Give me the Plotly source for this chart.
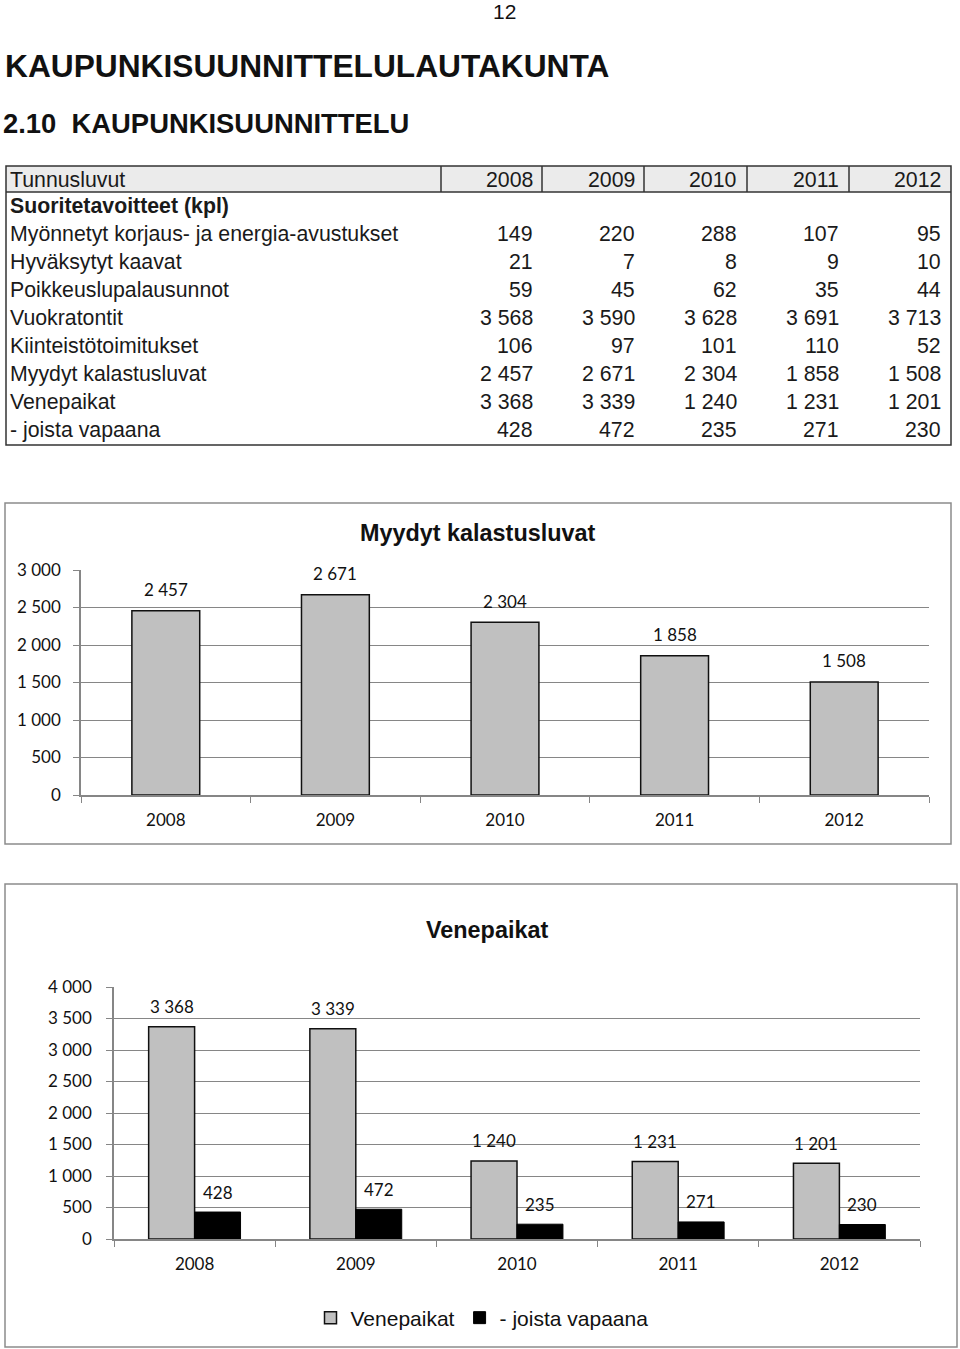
import plotly.graph_objects as go

W, H = 960, 1349

years = ["2008", "2009", "2010", "2011", "2012"]
korjaus_avustukset = [149, 220, 288, 107, 95]
hyvaksytyt_kaavat = [21, 7, 8, 9, 10]
poikkeuslupalausunnot = [59, 45, 62, 35, 44]
vuokratontit = [3568, 3590, 3628, 3691, 3713]
kiinteistotoimitukset = [106, 97, 101, 110, 52]
kalastusluvat = [2457, 2671, 2304, 1858, 1508]
venepaikat = [3368, 3339, 1240, 1231, 1201]
vapaana = [428, 472, 235, 271, 230]

row_labels = ["Myönnetyt korjaus- ja energia-avustukset", "Hyväksytyt kaavat",
              "Poikkeuslupalausunnot", "Vuokratontit", "Kiinteistötoimitukset",
              "Myydyt kalastusluvat", "Venepaikat", "- joista vapaana"]
row_values = [korjaus_avustukset, hyvaksytyt_kaavat, poikkeuslupalausunnot, vuokratontit,
              kiinteistotoimitukset, kalastusluvat, venepaikat, vapaana]


def px(x):
    return x / W


def py(y):
    return 1 - y / H


def fmt(v):
    return f"{v:,}".replace(",", " ")


ARIAL = "Liberation Sans, Arial, sans-serif"
CAL = "Lato, Carlito, Calibri, sans-serif"
GRID = "#868686"

fig = go.Figure()

# Chart 1
fig.add_trace(go.Bar(
    x=years, y=kalastusluvat, xaxis="x", yaxis="y", width=0.4, offset=-0.2,
    marker=dict(color="#c0c0c0", line=dict(color="#111111", width=1.5)),
    showlegend=False, name="Myydyt kalastusluvat", hoverinfo="x+y"))

# Chart 2
fig.add_trace(go.Bar(
    x=years, y=venepaikat, xaxis="x2", yaxis="y2", width=0.285, offset=-0.285,
    marker=dict(color="#c0c0c0", line=dict(color="#111111", width=1.5)),
    name="Venepaikat", hoverinfo="x+y"))
fig.add_trace(go.Bar(
    x=years, y=vapaana, xaxis="x2", yaxis="y2", width=0.285, offset=0,
    marker=dict(color="#000000", line=dict(color="#000000", width=1)),
    name="- joista vapaana", hoverinfo="x+y"))

axis_common_x = dict(type="category", showline=True, linecolor=GRID, linewidth=1.5,
                     ticks="outside", tickson="boundaries", ticklen=6, tickcolor=GRID,
                     showgrid=False, tickfont=dict(family=CAL, size=17, color="#111111"),
                     ticklabelstandoff=9, fixedrange=True, range=[-0.5, len(years) - 0.5],
                     autorange=False)
axis_common_y = dict(showline=True, linecolor=GRID, linewidth=1.5, ticks="outside",
                     ticklen=6, tickcolor=GRID, showgrid=True, gridcolor=GRID, gridwidth=1.2,
                     zeroline=False, tickformat=",d", dtick=500, autorange=False,
                     tickfont=dict(family=CAL, size=17, color="#111111"), fixedrange=True)

fig.update_layout(
    width=W, height=H, margin=dict(l=0, r=0, t=0, b=0, autoexpand=False), autosize=False,
    paper_bgcolor="white", plot_bgcolor="white", separators=", ",
    xaxis=dict(domain=[px(81), px(929)], anchor="y", **axis_common_x),
    yaxis=dict(domain=[py(795), py(570)], anchor="x", range=[0, 3000],
               ticklabelstandoff=9, **axis_common_y),
    xaxis2=dict(domain=[px(114), px(920)], anchor="y2", **axis_common_x),
    yaxis2=dict(domain=[py(1239), py(987)], anchor="x2", range=[0, 4000],
                ticklabelstandoff=11, **axis_common_y),
    legend=dict(orientation="h", x=px(482), xanchor="center", y=py(1318), yanchor="middle",
                font=dict(family=ARIAL, size=21, color="#111111"), itemwidth=30,
                traceorder="normal", bgcolor="rgba(0,0,0,0)"),
    font=dict(family=ARIAL),
)

shapes = []
annotations = []

# page header
annotations.append(dict(text="12", x=px(505), y=py(12), xref="paper", yref="paper",
                        xanchor="center", yanchor="middle", showarrow=False,
                        font=dict(family=ARIAL, size=21, color="#111111")))
annotations.append(dict(text="<b>KAUPUNKISUUNNITTELULAUTAKUNTA</b>", x=px(3), y=py(66),
                        xref="paper", yref="paper", xanchor="left", yanchor="middle",
                        showarrow=False, font=dict(family=ARIAL, size=31.7, color="#111111")))
annotations.append(dict(text="<b>2.10  KAUPUNKISUUNNITTELU</b>", x=px(1), y=py(124),
                        xref="paper", yref="paper", xanchor="left", yanchor="middle",
                        showarrow=False, font=dict(family=ARIAL, size=27.4, color="#111111")))

# table
TL, TR, TT, TB, HB = 6, 951, 166, 445, 192
shapes.append(dict(type="rect", xref="paper", yref="paper", x0=px(TL), x1=px(TR),
                   y0=py(HB), y1=py(TT), fillcolor="#ebebeb", line=dict(width=0), layer="below"))
shapes.append(dict(type="rect", xref="paper", yref="paper", x0=px(TL), x1=px(TR),
                   y0=py(TB), y1=py(TT), line=dict(color="#333333", width=1.5)))
shapes.append(dict(type="line", xref="paper", yref="paper", x0=px(TL), x1=px(TR),
                   y0=py(HB), y1=py(HB), line=dict(color="#333333", width=1.5)))
for sx in [441, 542, 644, 747, 849]:
    shapes.append(dict(type="line", xref="paper", yref="paper", x0=px(sx), x1=px(sx),
                       y0=py(HB), y1=py(TT), line=dict(color="#333333", width=1.5)))

col_right = [535, 637, 739, 841, 943]
tfont = dict(family=ARIAL, size=21.3, color="#1a1a1a")
annotations.append(dict(text="Tunnusluvut", x=px(8), y=py(180), xref="paper", yref="paper",
                        xanchor="left", yanchor="middle", showarrow=False, font=tfont))
for yr, cx in zip(years, col_right):
    annotations.append(dict(text=yr, x=px(cx), y=py(180), xref="paper", yref="paper",
                            xanchor="right", yanchor="middle", showarrow=False, font=tfont))
annotations.append(dict(text="<b>Suoritetavoitteet (kpl)</b>", x=px(8), y=py(206),
                        xref="paper", yref="paper", xanchor="left", yanchor="middle",
                        showarrow=False, font=tfont))
for i, (lab, vals) in enumerate(zip(row_labels, row_values)):
    ry = 234 + 28 * i
    annotations.append(dict(text=lab, x=px(8), y=py(ry), xref="paper", yref="paper",
                            xanchor="left", yanchor="middle", showarrow=False, font=tfont))
    for v, cx in zip(vals, col_right):
        annotations.append(dict(text=fmt(v), x=px(cx), y=py(ry), xref="paper", yref="paper",
                                xanchor="right", yanchor="middle", showarrow=False, font=tfont))

# chart boxes
shapes.append(dict(type="rect", xref="paper", yref="paper", x0=px(5), x1=px(951),
                   y0=py(844), y1=py(503), line=dict(color="#8c8c8c", width=1.5)))
shapes.append(dict(type="rect", xref="paper", yref="paper", x0=px(5), x1=px(957),
                   y0=py(1347), y1=py(884), line=dict(color="#8c8c8c", width=1.5)))

annotations.append(dict(text="<b>Myydyt kalastusluvat</b>", x=px(478), y=py(533),
                        xref="paper", yref="paper", xanchor="center", yanchor="middle",
                        showarrow=False, font=dict(family=ARIAL, size=23.4, color="#111111")))
annotations.append(dict(text="<b>Venepaikat</b>", x=px(487), y=py(930),
                        xref="paper", yref="paper", xanchor="center", yanchor="middle",
                        showarrow=False, font=dict(family=ARIAL, size=23.4, color="#111111")))

# data labels (category index positions on the category axes)
lfont = dict(family=CAL, size=17, color="#111111")
for i, v in enumerate(kalastusluvat):
    annotations.append(dict(text=fmt(v), x=i, y=v, xref="x", yref="y", xanchor="center",
                            yanchor="middle", yshift=21, showarrow=False, font=lfont))
for i, v in enumerate(venepaikat):
    annotations.append(dict(text=fmt(v), x=i - 0.1425, y=v, xref="x2", yref="y2",
                            xanchor="center", yanchor="middle", yshift=20,
                            showarrow=False, font=lfont))
for i, v in enumerate(vapaana):
    annotations.append(dict(text=fmt(v), x=i + 0.1425, y=v, xref="x2", yref="y2",
                            xanchor="center", yanchor="middle", yshift=20,
                            showarrow=False, font=lfont))

fig.update_layout(shapes=shapes, annotations=annotations)

fig.write_html(
    "out.html",
    config={"displayModeBar": False},
    post_script="var gd=document.getElementById('{plot_id}');"
                "document.body.style.margin='0';"
                "gd.style.position='fixed';gd.style.left='0px';gd.style.top='0px';",
)
